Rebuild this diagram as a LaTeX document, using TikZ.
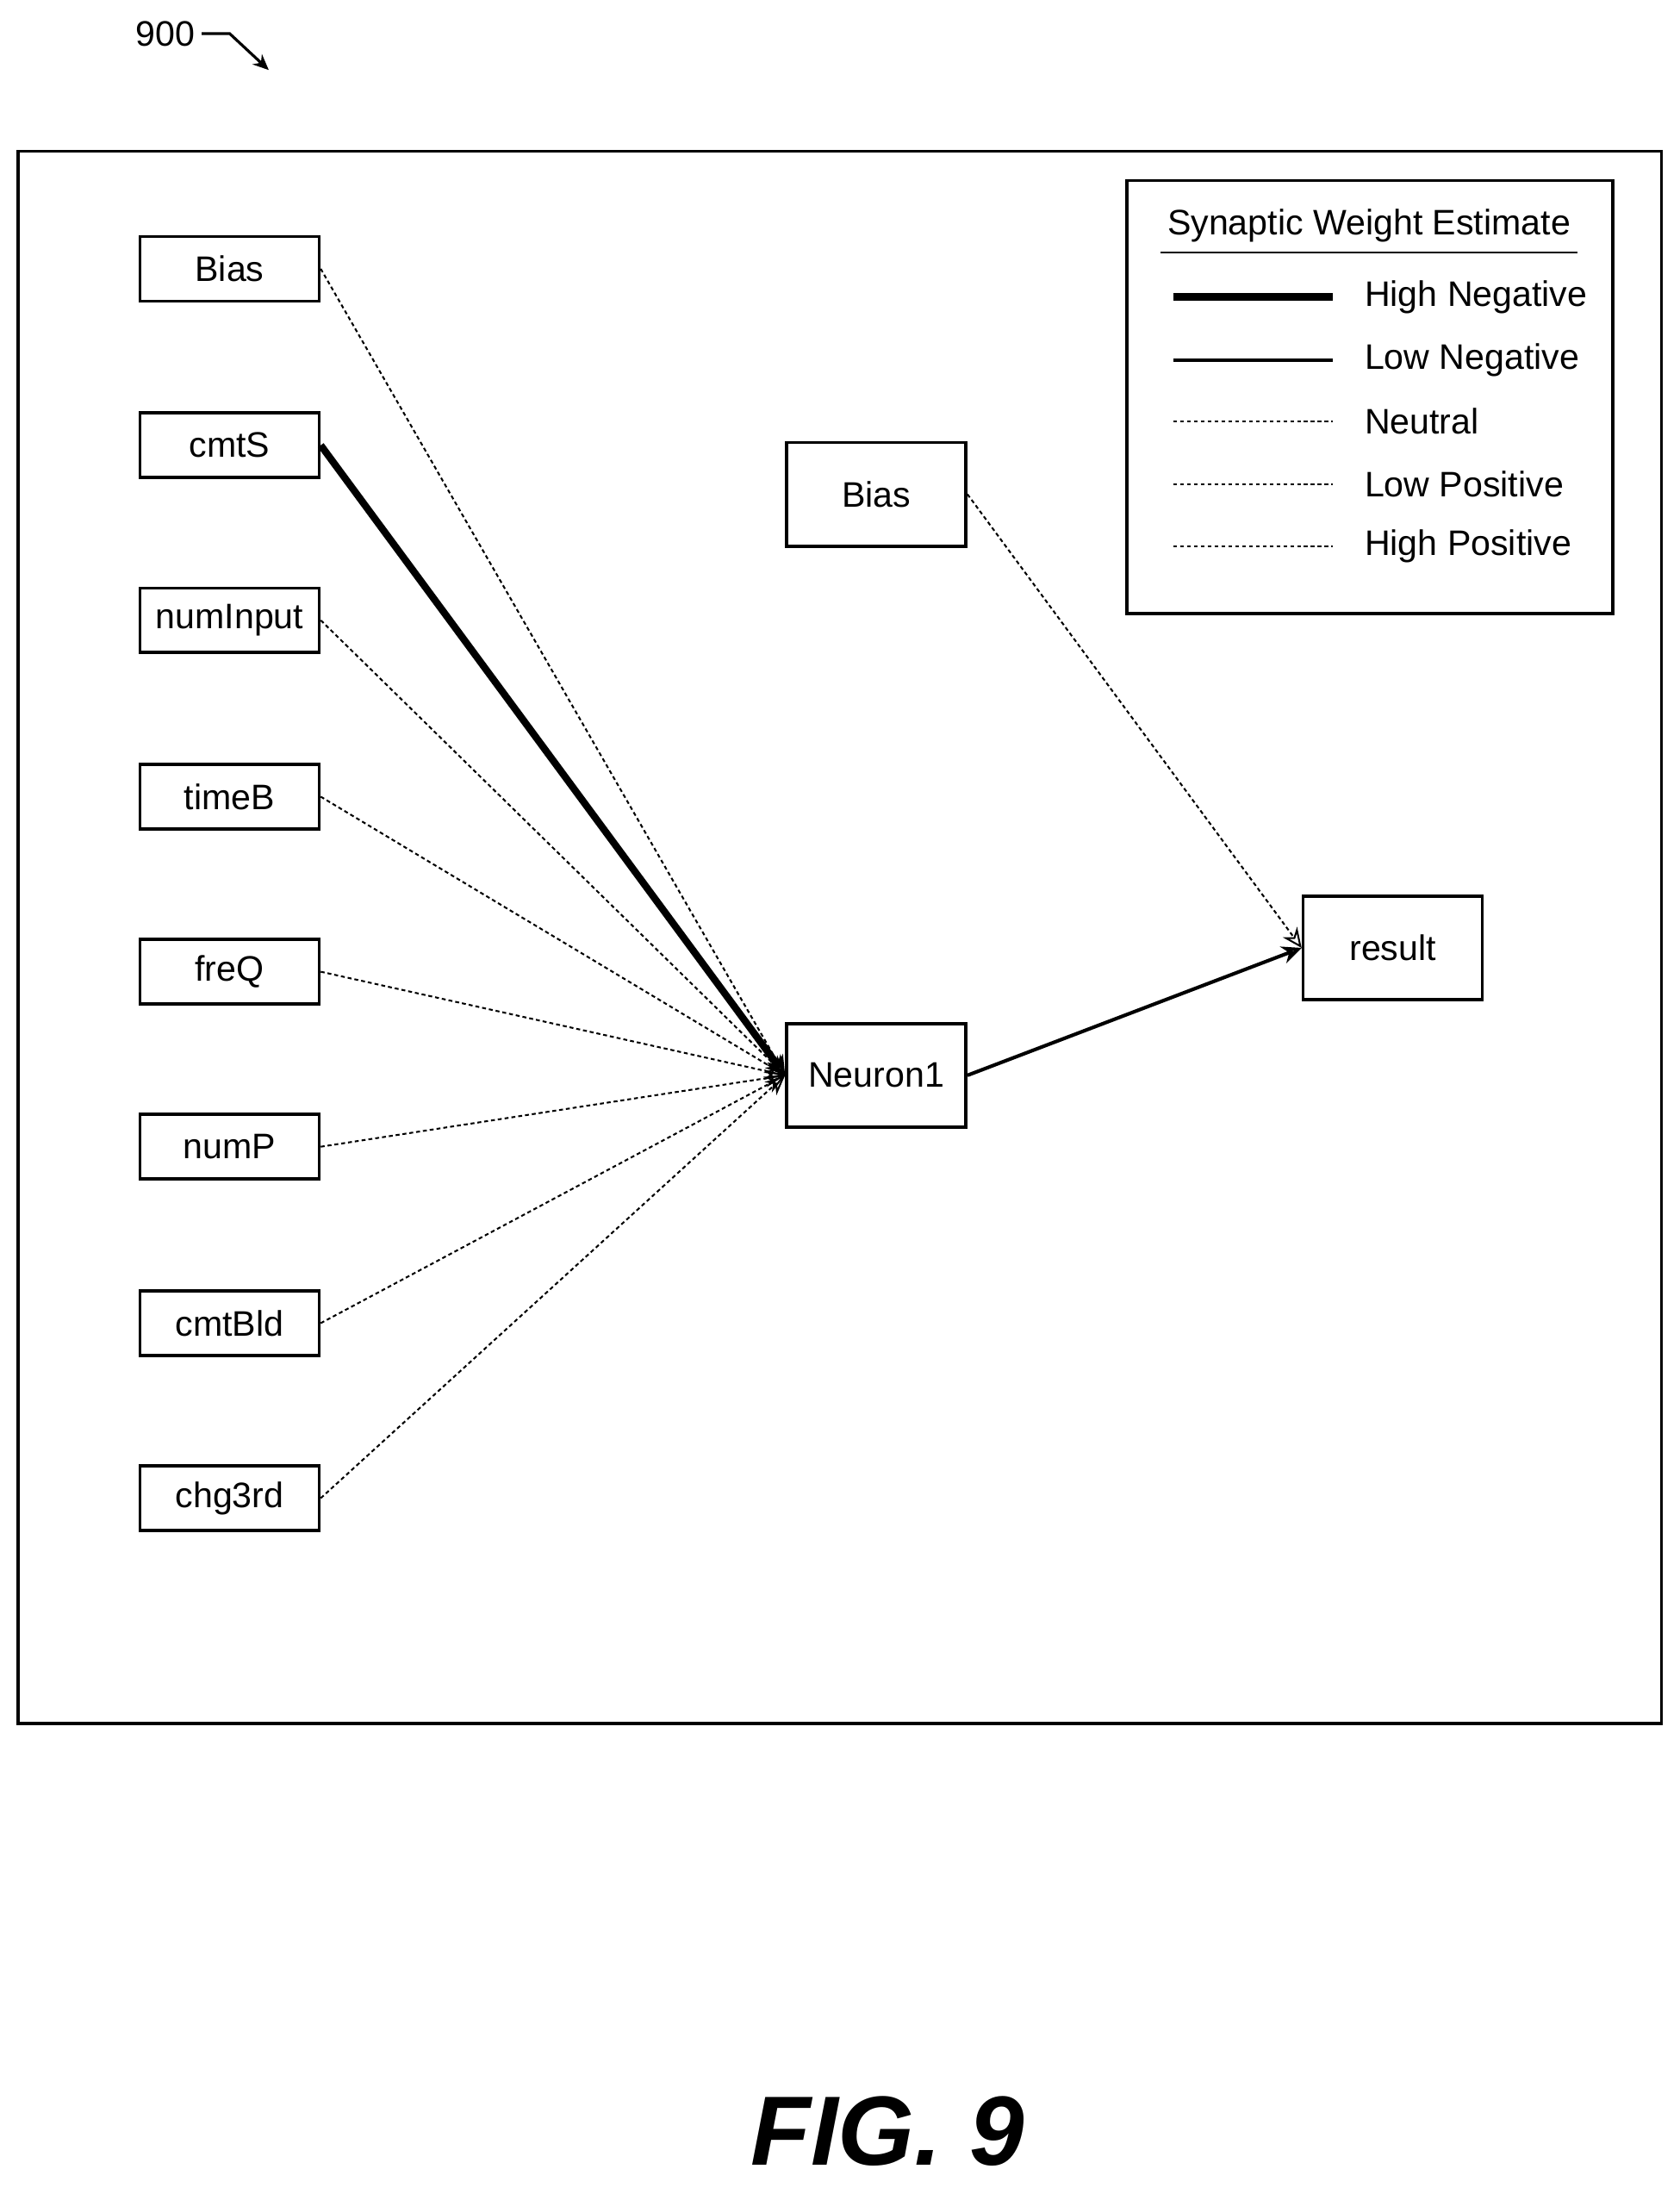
\documentclass[tikz,border=0pt]{standalone}
\usepackage{fontspec}
\setmainfont{Liberation Sans}
\usetikzlibrary{arrows.meta,positioning}
\begin{document}
\begin{tikzpicture}[x=0.025cm,y=-0.025cm,
    box/.style={rectangle, draw, line width=1.6pt, minimum width=3.2cm, minimum height=1.15cm, inner sep=0pt, font=\fontsize{18}{20}\selectfont},
    bigbox/.style={box, minimum height=1.85cm},
    weak/.style={densely dashed, dash pattern=on 2pt off 1.5pt, line width=0.9pt},
    strong/.style={line width=3.6pt},
    lowneg/.style={line width=1.8pt},
    arrow/.style={-{Stealth[open,length=10pt,width=9pt]}},
    legtext/.style={anchor=west, font=\fontsize{18}{20}\selectfont}
]
    \useasboundingbox (0,0) rectangle (1200,1567);
    \draw[line width=1.6pt] (13,108) rectangle (1187,1231);

    % inputs
    \node[box] (bias) at (164,192) {Bias};
    \node[box] (cmtS) at (164,318) {cmtS};
    \node[box] (numInput) at (164,443) {numInput};
    \node[box] (timeB) at (164,569) {timeB};
    \node[box] (freQ) at (164,694) {freQ};
    \node[box] (numP) at (164,819) {numP};
    \node[box] (cmtBld) at (164,945) {cmtBld};
    \node[box] (chg3rd) at (164,1070) {chg3rd};

    \node[bigbox] (neuron) at (626,768) {Neuron1};
    \node[bigbox] (biasout) at (626,353) {Bias};
    \node[bigbox] (result) at (995,677) {result};

    \foreach \n in {bias,numInput,timeB,freQ,numP,cmtBld,chg3rd}
        \draw[weak, arrow] (\n.east) -- (neuron.west);
    \draw[strong, arrow] (cmtS.east) -- (neuron.west);
    \draw[lowneg, arrow] (neuron.east) -- (result.west);
    \draw[weak, arrow] (biasout.east) -- (result.west);

    % legend
    \node[draw, line width=1.6pt, minimum width=8.675cm, minimum height=7.725cm] (legend) at (978.5,283.5) {};
    \node[font=\fontsize{18}{20}\selectfont] (legtitle) at (978,161) {Synaptic Weight Estimate};
    \draw[line width=0.9pt] ([yshift=-2pt]legtitle.south west) -- ([yshift=-2pt]legtitle.south east);
    \coordinate (l1a) at (838,212); \coordinate (l1b) at (952,212);
    \coordinate (l2a) at (838,257); \coordinate (l2b) at (952,257);
    \coordinate (l3a) at (838,301); \coordinate (l3b) at (952,301);
    \coordinate (l4a) at (838,346); \coordinate (l4b) at (952,346);
    \coordinate (l5a) at (838,390); \coordinate (l5b) at (952,390);
    \draw[strong] (l1a) -- (l1b);
    \draw[lowneg] (l2a) -- (l2b);
    \draw[weak] (l3a) -- (l3b);
    \draw[weak] (l4a) -- (l4b);
    \draw[weak] (l5a) -- (l5b);
    \node[legtext] (t1) at (970,212) {High Negative};
    \node[legtext] (t2) at (970,257) {Low Negative};
    \node[legtext] (t3) at (970,301) {Neutral};
    \node[legtext] (t4) at (970,346) {Low Positive};
    \node[legtext] (t5) at (970,390) {High Positive};

    % figure label
    \node[font=\fontsize{18}{20}\selectfont] (ref) at (118,24) {900};
    \coordinate (refend) at (192,50);
    \draw[line width=1.4pt, -{Stealth[length=8pt,width=7pt]}] (ref.east) -- ++(20,0) -- (refend);
    \node[font=\fontsize{50}{52}\selectfont\bfseries\itshape] (fig) at (634,1522) {FIG. 9};
\end{tikzpicture}
\end{document}
